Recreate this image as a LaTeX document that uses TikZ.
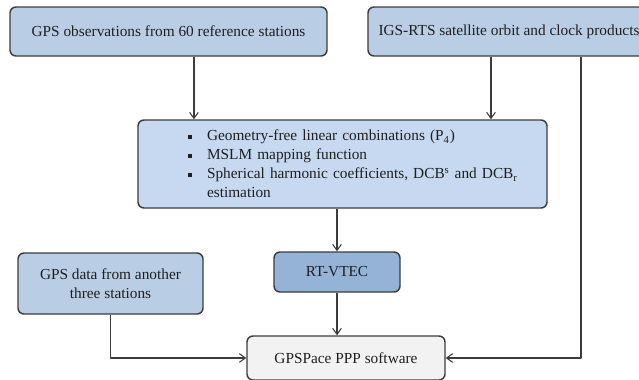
\documentclass[tikz,border=0pt]{standalone}
\usepackage{fontspec}
\setmainfont{Liberation Serif}
\usetikzlibrary{arrows.meta}
\definecolor{boxblue}{HTML}{B9CDE5}
\definecolor{boxlight}{HTML}{C6D9F1}
\definecolor{boxdark}{HTML}{95B3D7}
\definecolor{boxgray}{HTML}{F2F2F2}
\definecolor{linegray}{HTML}{3C3C3C}
\newcommand{\itm}[1]{\mbox{\makebox[14.25pt][l]{\rule[1.2pt]{3pt}{3pt}}#1}}
\begin{document}
\begin{tikzpicture}[x=0.75pt,y=-0.75pt,>={Straight Barb[length=4.5pt,width=6.5pt]},
		font=\fontsize{11.5}{14.25}\selectfont, line join=round,
		box/.style={draw=linegray,line width=1.1pt,rounded corners=4.5pt,fill=boxblue,
			inner sep=0pt,align=center,text=black!88},
		link/.style={draw=linegray,line width=0.8pt}]
	\useasboundingbox (0,0) rectangle (639,379);
	\clip (0,0) rectangle (639,379);
	% Eingaben
	\node[box,minimum width=237.75pt,minimum height=36.75pt] (obs) at (168.5,31.5)
		{GPS observations from 60 reference stations};
	\node[box,minimum width=211.5pt,minimum height=36.75pt] (igs) at (509,31.5)
		{IGS-RTS satellite orbit and clock products};
	% Verarbeitung
	\node[box,fill=boxlight,minimum width=306.75pt,minimum height=66pt,inner xsep=37.5pt,
		text width=231.75pt,align=left] (mid) at (342.5,164)
		{\itm{Geometry-free linear combinations (P\textsubscript{4})}\\
		\itm{MSLM mapping function}\\
		\itm{Spherical harmonic coefficients, DCB\textsuperscript{s} and DCB\textsubscript{r}}\\
		\hspace*{14.25pt}estimation};
	\node[box,minimum width=138.75pt,minimum height=45.75pt] (gdata) at (110.5,283.5)
		{GPS data from another\\three stations};
	\node[box,fill=boxdark,minimum width=94.5pt,minimum height=30pt] (rtvtec) at (337,272) {RT-VTEC};
	\node[box,fill=boxgray,minimum width=148.5pt,minimum height=33pt] (ppp) at (346,358)
		{GPSPace PPP software};
	% Verbindungen
	\draw[link,->] ([xshift=19.1pt]obs.south) -- ([xshift=19.1pt]obs.south |- mid.north);
	\draw[link,->] ([xshift=-13.5pt]igs.south) -- ([xshift=-13.5pt]igs.south |- mid.north);
	\draw[link,->] ([xshift=54pt]igs.south) |- (ppp.east);
	\draw[link,->] (mid.south -| rtvtec.north) -- (rtvtec.north);
	\draw[link,->] (rtvtec.south) -- (rtvtec.south |- ppp.north);
	\draw[link,->] (gdata.south) |- (ppp.west);
\end{tikzpicture}
\end{document}
